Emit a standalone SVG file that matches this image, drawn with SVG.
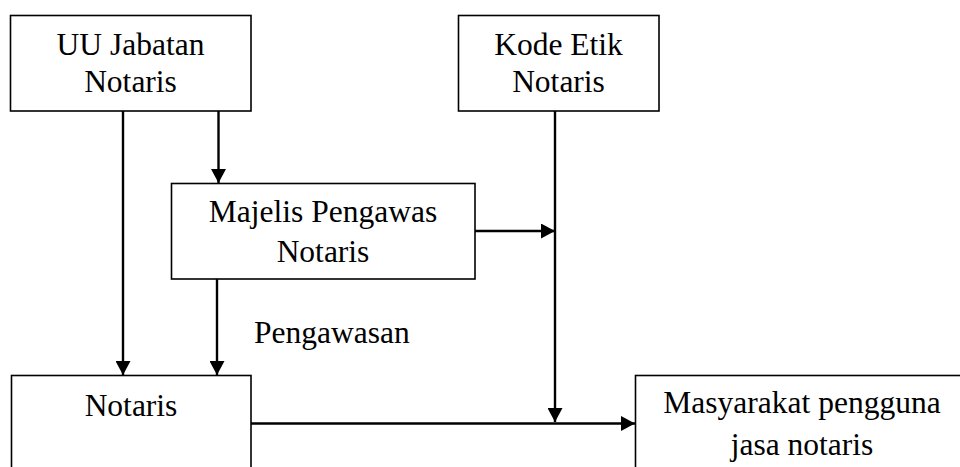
<svg xmlns="http://www.w3.org/2000/svg" width="960" height="467" viewBox="0 0 960 467">
<style>
.box{fill:#fff;stroke:#000;stroke-width:1.6}
.t{font-family:"Liberation Serif","Times New Roman",serif;font-size:31.5px;fill:#000;text-anchor:middle}
.c{stroke:#000;stroke-width:2.4;fill:none}
</style>
<defs>
<marker id="ah" viewBox="0 0 14 15" refX="14" refY="7.5" markerWidth="14" markerHeight="15" markerUnits="userSpaceOnUse" orient="auto">
<path d="M0,0 L14,7.5 L0,15 Z" fill="#000"/>
</marker>
</defs>
<rect width="960" height="467" fill="#fff"/>
<g id="uu">
<rect class="box" x="10.5" y="15.5" width="240.5" height="95.5"/>
<text class="t" x="130.5" y="55">UU Jabatan</text>
<text class="t" x="130.5" y="92">Notaris</text>
</g>
<g id="kode">
<rect class="box" x="458.5" y="15.5" width="200.5" height="95.5"/>
<text class="t" x="558.5" y="55">Kode Etik</text>
<text class="t" x="558.5" y="92">Notaris</text>
</g>
<g id="majelis">
<rect class="box" x="171.5" y="183.5" width="303.5" height="95.5"/>
<text class="t" x="323" y="222">Majelis Pengawas</text>
<text class="t" x="323" y="262">Notaris</text>
</g>
<g id="notaris">
<rect class="box" x="11.5" y="375.5" width="239.5" height="100"/>
<text class="t" x="131" y="416">Notaris</text>
</g>
<g id="masyarakat">
<rect class="box" x="635.5" y="375.5" width="340" height="100"/>
<text class="t" x="802" y="413">Masyarakat pengguna</text>
<text class="t" x="802" y="455">jasa notaris</text>
</g>
<g id="connectors">
<line class="c" x1="123" y1="111" x2="123" y2="375" marker-end="url(#ah)"/>
<line class="c" x1="218.5" y1="111" x2="218.5" y2="183" marker-end="url(#ah)"/>
<line class="c" x1="217" y1="279" x2="217" y2="375" marker-end="url(#ah)"/>
<line class="c" x1="475" y1="231" x2="555" y2="231" marker-end="url(#ah)"/>
<line class="c" x1="555" y1="111" x2="555" y2="422" marker-end="url(#ah)"/>
<line class="c" x1="251" y1="423.5" x2="635" y2="423.5" marker-end="url(#ah)"/>
</g>
<text class="t" x="254" y="343" style="text-anchor:start">Pengawasan</text>
</svg>
